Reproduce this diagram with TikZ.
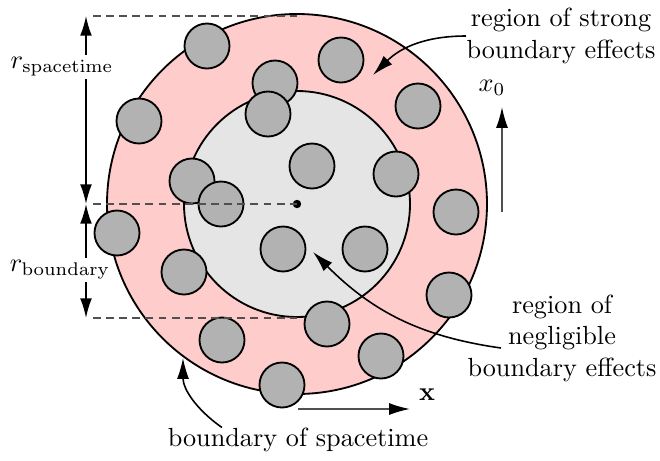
\documentclass[tikz,border=0pt]{standalone}
\usepackage{amsmath}
\usetikzlibrary{arrows.meta,calc}
\definecolor{ringpink}{RGB}{255,204,204}
\definecolor{coregray}{RGB}{229,229,229}
\definecolor{blobgray}{RGB}{178,178,178}
\definecolor{axisgray}{RGB}{80,80,80}

\begin{document}
\begin{tikzpicture}[x=0.0134cm, y=0.0134cm,
  region/.style={draw=black, line width=0.7pt},
  blob/.style={draw=black, line width=0.7pt, fill=blobgray},
  guide/.style={draw=axisgray, line width=0.6pt, dash pattern=on 3pt off 2pt},
  dimarrow/.style={{Latex[length=7.5pt,width=4.5pt]}-{Latex[length=7.5pt,width=4.5pt]}, line width=0.6pt},
  axisarrow/.style={-{Latex[length=8pt,width=4.6pt,color=black]}, draw=axisgray, line width=0.6pt},
  callout/.style={-{Latex[length=8pt,width=4.6pt]}, line width=0.6pt},
  note/.style={align=center, inner sep=0pt}
]
\useasboundingbox (0,0) rectangle (660,-460);

\coordinate (c) at (297,-204);
\draw[region, fill=ringpink] (c) circle (190);
\draw[region, fill=coregray] (c) circle (113);

\foreach \px/\py in {207/46, 341/60, 275/83, 268/114, 139/121, 418/106,
    312/166, 396/174, 192/181, 221/204, 456/212, 117/233, 283/249,
    365/249, 184/272, 449/295, 327/324, 222/340, 381/356, 282/385}
  \draw[blob] (\px,-\py) circle (22.5);
\fill (c) circle (4.2);

\draw[guide] (93,-16) -- (297,-16);
\draw[guide] (93,-204) -- (c);
\draw[guide] (93,-318) -- (297,-318);

\coordinate (spaceL) at (86,-16);
\coordinate (midL) at (86,-204);
\coordinate (bndL) at (86,-318);
\draw[dimarrow] (midL) -- (spaceL);
\draw[dimarrow] (midL) -- (bndL);
\node[fill=white, inner sep=1pt] (rspace) at (62,-67) {$r_{\mathrm{spacetime}}$};
\node[fill=white, inner sep=1pt] (rbnd) at (60,-270) {$r_{\mathrm{boundary}}$};

\coordinate (tbase) at (502,-212);
\coordinate (ttip) at (502,-107);
\draw[axisarrow] (tbase) -- (ttip);
\node (tlab) at (492,-88) {$x_0$};

\coordinate (xbase) at (298,-409);
\coordinate (xtip) at (410,-409);
\draw[axisarrow] (xbase) -- (xtip);
\node (xlab) at (427,-395) {$\mathbf{x}$};

\node[note] (strong) at (561,-36) {region of strong\\boundary effects};
\coordinate (strongtip) at (373,-75);
\draw[callout] (strong.west) to[out=180,in=45] (strongtip);

\node[note] (neg) at (562,-338) {region of\\negligible\\boundary effects};
\coordinate (negtip) at (313,-252);
\draw[callout] ($(neg.west)+(34,-10)$) to[out=172,in=-45] (negtip);

\node[note] (bnd) at (298,-440) {boundary of spacetime};
\coordinate (bndtip) at (183,-358);
\draw[callout] ($(bnd.north)+(-76,0)$) to[out=145,in=-90] (bndtip);
\end{tikzpicture}
\end{document}
